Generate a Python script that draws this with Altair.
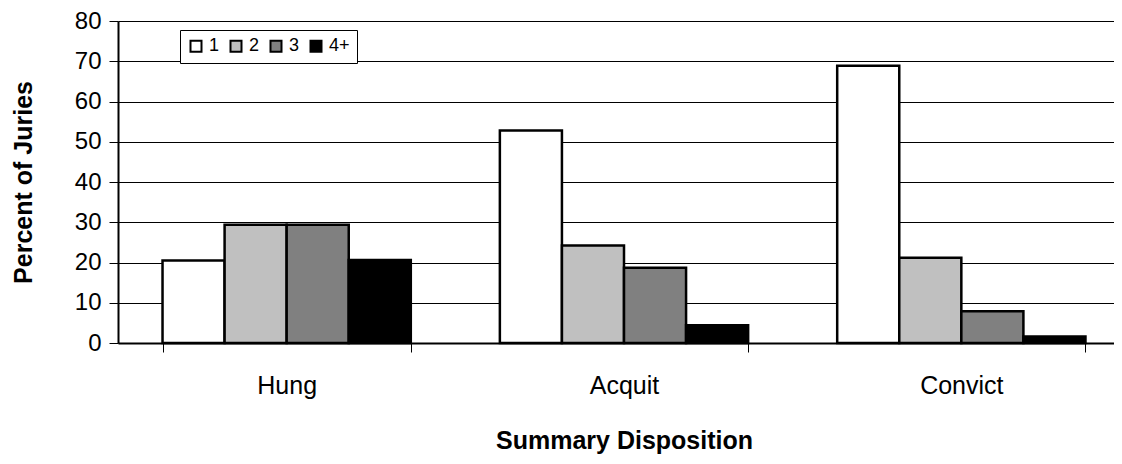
import altair as alt
import pandas as pd

categories = ["Hung", "Acquit", "Convict"]
groups = ["1", "2", "3", "4+"]
values = {
    "Hung":    [20.5, 29.4, 29.4, 20.6],
    "Acquit":  [52.8, 24.2, 18.7, 4.4],
    "Convict": [68.9, 21.2, 7.9, 1.6],
}
colors = ["#ffffff", "#c0c0c0", "#808080", "#000000"]

rows = []
for c in categories:
    for g, v in zip(groups, values[c]):
        rows.append({"Disposition": c, "Group": g, "Percent": v})
df = pd.DataFrame(rows)

FONT = "Liberation Sans"

chart = alt.Chart(df).mark_bar(stroke="black", strokeWidth=2.5).encode(
    x=alt.X("Disposition:N", sort=categories,
            scale=alt.Scale(paddingInner=0.264, paddingOuter=0.132, range=[0, 1012]),
            axis=alt.Axis(title="Summary Disposition", labelAngle=0, tickBand="extent",
                          labelFontSize=25, titleFontSize=25, titleFontWeight="bold",
                          labelFont=FONT, titleFont=FONT, labelColor="black", titleColor="black",
                          domainColor="black", domainWidth=2, tickColor="black", tickSize=9,
                          tickWidth=1, labelPadding=21, titlePadding=30, grid=False)),
    xOffset=alt.XOffset("Group:N", sort=groups),
    y=alt.Y("Percent:Q",
            scale=alt.Scale(domain=[0, 80]),
            axis=alt.Axis(title="Percent of Juries", values=list(range(0, 81, 10)),
                          labelFontSize=24, titleFontSize=25, titleFontWeight="bold",
                          labelFont=FONT, titleFont=FONT, labelColor="black", titleColor="black",
                          domainColor="black", domainWidth=2, tickColor="black", tickSize=9,
                          labelPadding=8, titlePadding=38,
                          grid=True, gridColor="black", gridWidth=1, gridOpacity=1)),
    fill=alt.Fill("Group:N", sort=groups,
                  scale=alt.Scale(domain=groups, range=colors),
                  legend=alt.Legend(title=None, orient="none", legendX=62, legendY=9,
                                    direction="horizontal", symbolType="square",
                                    symbolSize=121, symbolStrokeColor="black",
                                    symbolStrokeWidth=2, labelFontSize=18, labelFont=FONT,
                                    labelColor="black", strokeColor="black", padding=7,
                                    fillColor="white", columnPadding=6, labelOffset=4)),
).properties(
    width=996, height=322,
    autosize=alt.AutoSizeParams(type="none"),
    padding={"left": 110, "top": 13, "right": 0, "bottom": 113},
).configure_view(stroke=None).configure_axis(labelFont=FONT)

chart.save("out.html", embed_options={"renderer": "svg", "actions": False})
